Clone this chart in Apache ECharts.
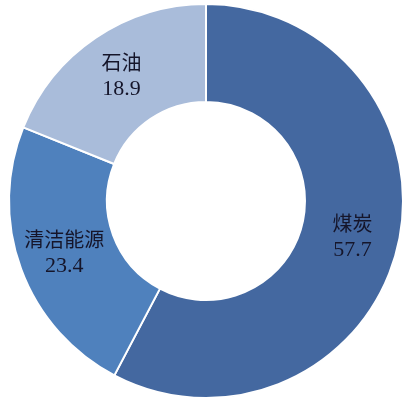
<!DOCTYPE html>
<html>
<head>
<meta charset="utf-8">
<script src="https://cdn.jsdelivr.net/npm/echarts@6/dist/echarts.min.js"></script>
<style>
html,body{margin:0;padding:0;background:#fff;}
#c{width:412px;height:407px;}
</style>
</head>
<body>
<div id="c"></div>
<script>
const categories = ['煤炭', '清洁能源', '石油'];
const values = [57.7, 23.4, 18.9];
const colors = ['#4468A0', '#4F81BD', '#A9BCDA'];

const chart = echarts.init(document.getElementById('c'), null, {renderer: 'canvas'});
chart.setOption({
  backgroundColor: '#ffffff',
  animation: false,
  series: [{
    type: 'pie',
    center: [206, 201],
    radius: [99, 197],
    startAngle: 90,
    clockwise: true,
    avoidLabelOverlap: false,
    itemStyle: { borderColor: '#ffffff', borderWidth: 2 },
    label: {
      show: true,
      position: 'inside',
      formatter: function (p) { return '{n|' + p.name + '}\n{v|' + p.value + '}'; },
      rich: {
        n: { fontFamily: 'Noto Sans CJK SC', fontSize: 20, color: '#15152a', lineHeight: 27, align: 'center' },
        v: { fontFamily: 'Liberation Serif', fontSize: 22, color: '#15152a', lineHeight: 27, align: 'center' }
      }
    },
    labelLine: { show: false },
    emphasis: { disabled: true },
    data: categories.map(function (c, i) {
      return { name: c, value: values[i], itemStyle: { color: colors[i] } };
    })
  }]
});
</script>
</body>
</html>
